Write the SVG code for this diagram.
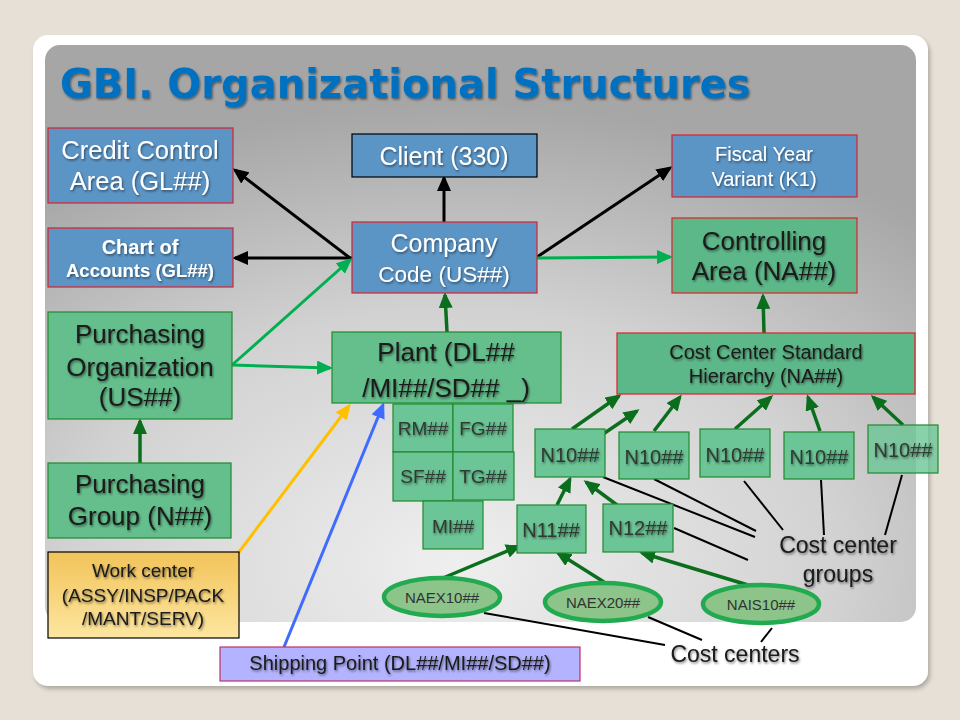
<svg xmlns="http://www.w3.org/2000/svg" width="960" height="720" viewBox="0 0 960 720">
<defs>
<radialGradient id="pg" cx="0.47" cy="0.9" r="0.8">
<stop offset="0" stop-color="#efefef"/>
<stop offset="0.55" stop-color="#d2d2d2"/>
<stop offset="1" stop-color="#a6a6a6"/>
</radialGradient>
<linearGradient id="wc" x1="0" y1="0" x2="0" y2="1">
<stop offset="0" stop-color="#f2c35a"/>
<stop offset="1" stop-color="#fde6a0"/>
</linearGradient>
<filter id="ts" x="-10%" y="-30%" width="120%" height="160%">
<feDropShadow dx="1" dy="1.5" stdDeviation="0.9" flood-color="#000" flood-opacity="0.5"/>
</filter>
<filter id="cs" x="-5%" y="-5%" width="110%" height="110%">
<feDropShadow dx="2" dy="3" stdDeviation="2" flood-color="#000" flood-opacity="0.25"/>
</filter>
<marker id="mk" viewBox="0 0 16 14" refX="13" refY="7" markerWidth="16" markerHeight="14" markerUnits="userSpaceOnUse" orient="auto"><path d="M0,0 L16,7 L0,14 z" fill="#000"/></marker>
<marker id="mg" viewBox="0 0 16 14" refX="13" refY="7" markerWidth="16" markerHeight="14" markerUnits="userSpaceOnUse" orient="auto"><path d="M0,0 L16,7 L0,14 z" fill="#00b050"/></marker>
<marker id="md" viewBox="0 0 16 14" refX="13" refY="7" markerWidth="16" markerHeight="14" markerUnits="userSpaceOnUse" orient="auto"><path d="M0,0 L16,7 L0,14 z" fill="#0b6e1c"/></marker>
<marker id="my" viewBox="0 0 16 14" refX="13" refY="7" markerWidth="16" markerHeight="14" markerUnits="userSpaceOnUse" orient="auto"><path d="M0,0 L16,7 L0,14 z" fill="#ffc000"/></marker>
<marker id="mb" viewBox="0 0 16 14" refX="13" refY="7" markerWidth="16" markerHeight="14" markerUnits="userSpaceOnUse" orient="auto"><path d="M0,0 L16,7 L0,14 z" fill="#3f6bff"/></marker>
</defs>
<style>
.t{font-family:"Liberation Sans",Arial,sans-serif;text-anchor:middle}
.w{fill:#ffffff;filter:url(#ts)}
.k{fill:#1a1a1a;filter:url(#ts)}
.g{fill:#2e3a33;filter:url(#ts)}
.blue{fill:#5b95c6;stroke:#e0202a;stroke-width:1.2}
.grn{fill:#64bf8c;stroke:#1f8a2e;stroke-width:1.2}
.grr{fill:#5db889;stroke:#e0202a;stroke-width:1.2}
.sm{fill:#6cc596;stroke:#1f8a2e;stroke-width:1.2}
.el{fill:#8cc48a;stroke:#22aa50;stroke-width:4.5}
.ab{stroke:#000;stroke-width:3;fill:none;marker-end:url(#mk)}
.ag{stroke:#00b050;stroke-width:3;fill:none;marker-end:url(#mg)}
.ad{stroke:#0b6e1c;stroke-width:3.5;fill:none;marker-end:url(#md)}
.ln{stroke:#000;stroke-width:2;fill:none}
</style>
<rect x="0" y="0" width="960" height="720" fill="#e6e0d6"/>
<rect x="33" y="35" width="895" height="651" rx="15" fill="#ffffff" filter="url(#cs)"/>
<rect x="45" y="45" width="871" height="577" rx="15" fill="url(#pg)"/>
<text x="60" y="98" font-family="DejaVu Sans,Verdana,sans-serif" font-weight="bold" font-size="40" fill="#0070c0" filter="url(#ts)">GBI. Organizational Structures</text>

<g id="connectors">
<line class="ab" x1="350" y1="258" x2="235" y2="170"/>
<line class="ab" x1="352" y1="258" x2="235" y2="258"/>
<line class="ab" x1="444" y1="222" x2="444" y2="178"/>
<line class="ab" x1="537" y1="257" x2="670" y2="168"/>
<line class="ag" x1="537" y1="258" x2="670" y2="257"/>
<line class="ag" x1="232" y1="365" x2="350" y2="260"/>
<line class="ag" x1="232" y1="365" x2="330" y2="368"/>
<line class="ad" x1="447" y1="332" x2="445" y2="295"/>
<line class="ad" x1="764" y1="333" x2="763" y2="296"/>
<line class="ad" x1="140" y1="463" x2="140" y2="421"/>
<line class="ad" x1="572" y1="429" x2="619" y2="396"/>
<line class="ad" x1="587" y1="445" x2="637" y2="411"/>
<line class="ad" x1="654" y1="431" x2="680" y2="397"/>
<line class="ad" x1="735" y1="429" x2="771" y2="397"/>
<line class="ad" x1="820" y1="431" x2="808" y2="397"/>
<line class="ad" x1="903" y1="425" x2="873" y2="397"/>
<line class="ad" x1="557" y1="505" x2="570" y2="479"/>
<line class="ad" x1="617" y1="505" x2="586" y2="482"/>
<line class="ad" x1="443" y1="578" x2="519" y2="546"/>
<line class="ad" x1="604" y1="582" x2="558" y2="553"/>
<line class="ad" x1="748" y1="585" x2="642" y2="553"/>
<line stroke="#ffc000" stroke-width="3" fill="none" marker-end="url(#my)" x1="236" y1="556" x2="349" y2="406"/>
<line stroke="#3f6bff" stroke-width="3" fill="none" marker-end="url(#mb)" x1="284" y1="647" x2="383" y2="405"/>
<line class="ln" x1="603" y1="477" x2="755" y2="537"/>
<line class="ln" x1="654" y1="479" x2="756" y2="531"/>
<line class="ln" x1="744" y1="481" x2="783" y2="530"/>
<line class="ln" x1="821" y1="480" x2="824" y2="535"/>
<line class="ln" x1="902" y1="475" x2="885" y2="535"/>
<line class="ln" x1="674" y1="528" x2="748" y2="560"/>
<line class="ln" x1="484" y1="613" x2="665" y2="645"/>
<line class="ln" x1="648" y1="617" x2="702" y2="640"/>
<line class="ln" x1="772" y1="628" x2="761" y2="642"/>
</g>

<g id="credit-control-area">
<rect class="blue" x="48" y="128" width="185" height="75"/>
<text class="t w" font-size="25.5" x="140" y="159">Credit Control</text>
<text class="t w" font-size="25.5" x="140" y="190">Area (GL##)</text>
</g>
<g id="chart-of-accounts">
<rect class="blue" x="48" y="228" width="185" height="59"/>
<text class="t w" font-size="20" font-weight="bold" x="140" y="254">Chart of</text>
<text class="t w" font-size="18.5" font-weight="bold" x="140" y="277">Accounts (GL##)</text>
</g>
<g id="client">
<rect x="352" y="134" width="185" height="43" fill="#5b95c6" stroke="#000" stroke-width="1.2"/>
<text class="t w" font-size="25" x="444" y="165">Client (330)</text>
</g>
<g id="company-code">
<rect class="blue" x="352" y="222" width="185" height="71"/>
<text class="t w" font-size="25" x="444" y="252">Company</text>
<text class="t w" font-size="22.5" x="444" y="282">Code  (US##)</text>
</g>
<g id="fiscal-year-variant">
<rect class="blue" x="672" y="135" width="185" height="62"/>
<text class="t w" font-size="20" x="764" y="161">Fiscal Year</text>
<text class="t w" font-size="20" x="764" y="186">Variant (K1)</text>
</g>
<g id="controlling-area">
<rect class="grr" x="672" y="218" width="185" height="75"/>
<text class="t k" font-size="26" x="764" y="250">Controlling</text>
<text class="t k" font-size="26" x="764" y="280">Area (NA##)</text>
</g>
<g id="purchasing-organization">
<rect class="grn" x="48" y="312" width="184" height="107"/>
<text class="t k" font-size="26" x="140" y="343">Purchasing</text>
<text class="t k" font-size="26" x="140" y="376">Organization</text>
<text class="t k" font-size="26" x="140" y="406">(US##)</text>
</g>
<g id="purchasing-group">
<rect class="grn" x="48" y="463" width="183" height="75"/>
<text class="t k" font-size="26" x="140" y="493">Purchasing</text>
<text class="t k" font-size="26" x="140" y="525">Group (N##)</text>
</g>
<g id="work-center">
<rect x="48" y="552" width="191" height="86" fill="url(#wc)" stroke="#000" stroke-width="1.2"/>
<text class="t k" font-size="19" x="143" y="577">Work center</text>
<text class="t k" font-size="19" x="143" y="602">(ASSY/INSP/PACK</text>
<text class="t k" font-size="19" x="143" y="625">/MANT/SERV)</text>
</g>
<g id="plant">
<rect class="grn" x="332" y="332" width="229" height="71"/>
<text class="t k" font-size="26" x="446" y="361">Plant (DL##</text>
<text class="t k" font-size="26" x="446" y="397">/MI##/SD## _)</text>
</g>
<g id="rm">
<rect class="sm" x="393" y="404" width="60" height="48"/>
<text class="t g" font-size="19" x="423" y="435">RM##</text>
</g>
<g id="fg">
<rect class="sm" x="453" y="404" width="60" height="48"/>
<text class="t g" font-size="19" x="483" y="435">FG##</text>
</g>
<g id="sf">
<rect class="sm" x="393" y="452" width="60" height="49"/>
<text class="t g" font-size="19" x="423" y="483">SF##</text>
</g>
<g id="tg">
<rect class="sm" x="453" y="452" width="61" height="48"/>
<text class="t g" font-size="19" x="483" y="483">TG##</text>
</g>
<g id="mi">
<rect class="sm" x="423" y="501" width="60" height="48"/>
<text class="t g" font-size="19" x="453" y="533">MI##</text>
</g>
<g id="shipping-point">
<rect x="220" y="647" width="360" height="34" fill="#b3b3ff" stroke="#c0306a" stroke-width="1.2"/>
<text class="t k" font-size="20" x="400" y="670">Shipping Point (DL##/MI##/SD##)</text>
</g>
<g id="cost-center-standard-hierarchy">
<rect class="grr" x="617" y="333" width="298" height="61"/>
<text class="t k" font-size="20" x="766" y="359">Cost Center Standard</text>
<text class="t k" font-size="20" x="766" y="383">Hierarchy (NA##)</text>
</g>
<g id="n10-1">
<rect class="sm" x="535" y="429" width="70" height="48"/>
<text class="t g" font-size="20" x="570" y="462">N10##</text>
</g>
<g id="n10-2">
<rect class="sm" x="619" y="432" width="70" height="47"/>
<text class="t g" font-size="20" x="654" y="464">N10##</text>
</g>
<g id="n10-3">
<rect class="sm" x="700" y="429" width="70" height="48"/>
<text class="t g" font-size="20" x="735" y="462">N10##</text>
</g>
<g id="n10-4">
<rect class="sm" x="784" y="432" width="70" height="47"/>
<text class="t g" font-size="20" x="819" y="464">N10##</text>
</g>
<g id="n10-5">
<rect class="sm" x="868" y="425" width="70" height="48" fill-opacity="0.8"/>
<text class="t g" font-size="20" x="903" y="457">N10##</text>
</g>
<g id="n11">
<rect class="sm" x="517" y="505" width="69" height="48"/>
<text class="t g" font-size="20" x="551" y="537">N11##</text>
</g>
<g id="n12">
<rect class="sm" x="603" y="504" width="70" height="48"/>
<text class="t g" font-size="20" x="638" y="535">N12##</text>
</g>
<g id="naex10">
<ellipse class="el" cx="442" cy="597" rx="58" ry="19"/>
<text class="t" font-size="15" fill="#333" x="442" y="603">NAEX10##</text>
</g>
<g id="naex20">
<ellipse class="el" cx="603" cy="602" rx="58" ry="19"/>
<text class="t" font-size="15" fill="#333" x="603" y="608">NAEX20##</text>
</g>
<g id="nais10">
<ellipse class="el" cx="761" cy="604" rx="58" ry="19"/>
<text class="t" font-size="15" fill="#333" x="761" y="610">NAIS10##</text>
</g>
<g id="cost-center-groups-label">
<text class="t k" font-size="23" x="838" y="553">Cost center</text>
<text class="t k" font-size="23" x="838" y="582">groups</text>
</g>
<g id="cost-centers-label">
<text class="t k" font-size="23" x="735" y="662">Cost centers</text>
</g>
</svg>
